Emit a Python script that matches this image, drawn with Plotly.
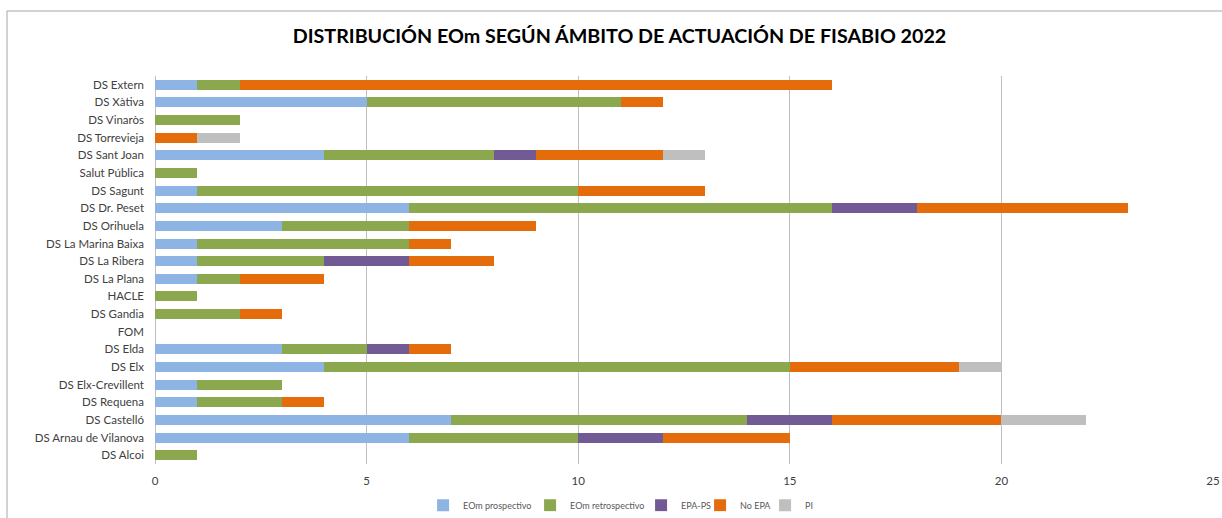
import plotly.graph_objects as go

categories = ["DS Alcoi", "DS Arnau de Vilanova", "DS Castelló", "DS Requena", "DS Elx-Crevillent",
              "DS Elx", "DS Elda", "FOM", "DS Gandia", "HACLE", "DS La Plana", "DS La Ribera",
              "DS La Marina Baixa", "DS Orihuela", "DS Dr. Peset", "DS Sagunt", "Salut Pública",
              "DS Sant Joan", "DS Torrevieja", "DS Vinaròs", "DS Xàtiva", "DS Extern"]

eom_prospectivo   = [0, 6, 7, 1, 1, 4, 3, 0, 0, 0, 1, 1, 1, 3, 6, 1, 0, 4, 0, 0, 5, 1]
eom_retrospectivo = [1, 4, 7, 2, 2, 11, 2, 0, 2, 1, 1, 3, 5, 3, 10, 9, 1, 4, 0, 2, 6, 1]
epa_ps            = [0, 2, 2, 0, 0, 0, 1, 0, 0, 0, 0, 2, 0, 0, 2, 0, 0, 1, 0, 0, 0, 0]
no_epa            = [0, 3, 4, 1, 0, 4, 1, 0, 1, 0, 2, 2, 1, 3, 5, 3, 0, 3, 1, 0, 1, 14]
pi                = [0, 0, 2, 0, 0, 1, 0, 0, 0, 0, 0, 0, 0, 0, 0, 0, 0, 1, 1, 0, 0, 0]

series = [
    ("EOm prospectivo", eom_prospectivo, "#8EB4E3", 62),
    ("EOm retrospectivo", eom_retrospectivo, "#8BA84E", 66),
    ("EPA-PS", epa_ps, "#725A94", 14),
    ("No EPA", no_epa, "#E46C0A", 20),
    ("PI", pi, "#BFBFBF", 10),
]

fig = go.Figure()
for name, vals, color, lw in series:
    fig.add_trace(go.Bar(y=categories, x=vals, name=name, orientation="h",
                         legendwidth=lw,
                         marker=dict(color=color, line=dict(width=0))))

font = "Lato, 'Open Sans', sans-serif"
fig.update_layout(
    barmode="stack",
    bargap=0.43,
    width=1222, height=518,
    margin=dict(l=155, r=9, t=76, b=54, autoexpand=False),
    paper_bgcolor="white", plot_bgcolor="white",
    font=dict(family=font, size=11.5, color="#404040"),
    title=dict(text="<b>DISTRIBUCIÓN EOm SEGÚN ÁMBITO DE ACTUACIÓN DE FISABIO 2022</b>",
               x=619.5 / 1222, xref="container", xanchor="center", y=0.930, yref="container",
               yanchor="middle",
               font=dict(family=font, size=19.7, color="#000000")),
    showlegend=True,
    legend=dict(orientation="h", x=0.441, xanchor="center", y=-0.106, yanchor="middle",
                font=dict(size=9, color="#595959"), traceorder="normal",
                itemwidth=30, bgcolor="rgba(0,0,0,0)"),
    xaxis=dict(range=[0, 25], tickvals=[0, 5, 10, 15, 20, 25], showgrid=True,
               gridcolor="#BFBFBF", gridwidth=1, zeroline=True, zerolinecolor="#BFBFBF",
               zerolinewidth=1, showline=False, ticks="", ticklabelstandoff=8,
               tickfont=dict(size=11.5, color="#404040"), automargin=False,
               fixedrange=True),
    yaxis=dict(categoryorder="array", categoryarray=categories, showgrid=False,
               zeroline=False, showline=False, ticks="", ticklabelstandoff=10,
               tickfont=dict(size=11.5, color="#404040"), automargin=False, fixedrange=True),
    shapes=[dict(type="rect", xref="paper", yref="paper",
                 x0=(7 - 155) / 1058, x1=(1240 - 155) / 1058,
                 y0=-(540 - 464) / 388, y1=1 + (76 - 11) / 388,
                 line=dict(color="#A6A6A6", width=1), layer="below")],
)

fig.write_html("out.html", config={"displayModeBar": False},
               post_script="document.body.style.margin='0';document.body.style.overflow='hidden';")
